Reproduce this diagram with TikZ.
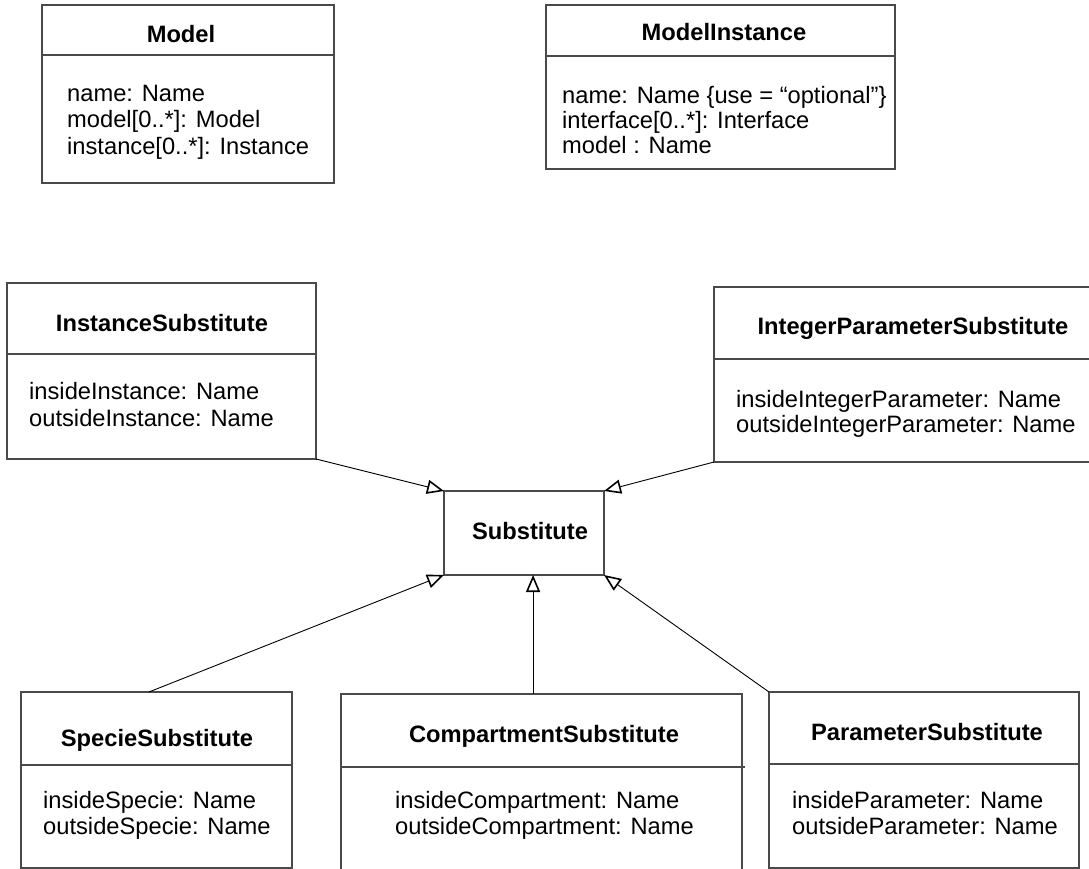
\documentclass[tikz,border=0pt]{standalone}
\usepackage{fontspec}
\setmainfont{Liberation Sans}
\usetikzlibrary{arrows.meta,calc}
\definecolor{boxgray}{HTML}{4A4A4A}
\tikzset{
  umlbox/.style={rectangle, inner sep=0pt, outer sep=0pt, anchor=north west},
  frame/.style={draw=boxgray, line width=1.3pt},
  classname/.style={font=\bfseries\fontsize{23.7}{27}\selectfont, anchor=base, inner sep=0pt},
  attr/.style={font=\fontsize{23.7}{27}\selectfont, anchor=base west, inner sep=0pt},
  inherit/.style={draw=black, line width=0.9pt,
    -{Triangle[open, length=17pt, width=14pt, line width=1.6pt]}},
}
\begin{document}
\begin{tikzpicture}[x=1pt,y=-1pt]
\useasboundingbox (0,0) rectangle (1089,869);

% ---- class frames ----
\node[umlbox, frame, minimum width=292pt, minimum height=178pt] (model) at (42,5) {};
\node[umlbox, frame, minimum width=349pt, minimum height=164pt] (mi) at (546,5) {};
\node[umlbox, frame, minimum width=309pt, minimum height=176pt] (inst) at (7,283) {};
\node[umlbox, minimum width=380pt, minimum height=175pt] (int) at (714,287) {};
\node[umlbox, frame, minimum width=160pt, minimum height=84pt] (sub) at (444,491) {};
\node[umlbox, frame, minimum width=271pt, minimum height=176pt] (spec) at (21,692) {};
\node[umlbox, minimum width=401pt, minimum height=180pt] (comp) at (341,694) {};
\node[umlbox, frame, minimum width=310pt, minimum height=176pt] (par) at (769,692) {};

% open-sided frames
\draw[frame] (int.north east) -- (int.north west) -- (int.south west) -- (int.south east);
\draw[frame] (comp.south west) -- (comp.north west) -- (comp.north east) -- (comp.south east);

% ---- compartment separators ----
\draw[frame] (model.west |- 0,55) -- (model.east |- 0,55);
\draw[frame] (mi.west |- 0,56) -- (mi.east |- 0,56);
\draw[frame] (inst.west |- 0,354) -- (inst.east |- 0,354);
\draw[frame] (int.west |- 0,359) -- (int.east |- 0,359);
\draw[frame] (spec.west |- 0,765) -- (spec.east |- 0,765);
\draw[frame] (comp.west |- 0,767) -- ($(comp.east |- 0,767)+(3,0)$);
\draw[frame] (par.west |- 0,764) -- (par.east |- 0,764);

% ---- class names ----
\node[classname] (model-t) at (181,43) {Model};
\node[classname] (mi-t) at (724,41) {ModelInstance};
\node[classname] (inst-t) at (162,331) {InstanceSubstitute};
\node[classname] (int-t) at (913,334) {IntegerParameterSubstitute};
\node[classname] (sub-t) at (530,539) {Substitute};
\node[classname] (spec-t) at (157,746) {SpecieSubstitute};
\node[classname] (comp-t) at (544,742) {CompartmentSubstitute};
\node[classname] (par-t) at (927,740) {ParameterSubstitute};

% ---- attributes ----
\node[attr] (model-a1) at (67,102) {name: Name};
\node[attr] (model-a2) at (67,128) {model[0..*]: Model};
\node[attr] (model-a3) at (67,155) {instance[0..*]: Instance};

\node[attr] (mi-a1) at (562,104) {name: Name \{use = “optional”\}};
\node[attr] (mi-a2) at (562,129) {interface[0..*]: Interface};
\node[attr] (mi-a3) at (562,154) {model : Name};

\node[attr] (inst-a1) at (29,399) {insideInstance: Name};
\node[attr] (inst-a2) at (29,426) {outsideInstance: Name};

\node[attr] (int-a1) at (736,407) {insideIntegerParameter: Name};
\node[attr] (int-a2) at (736,432) {outsideIntegerParameter: Name};

\node[attr] (spec-a1) at (43,808) {insideSpecie: Name};
\node[attr] (spec-a2) at (43,834) {outsideSpecie: Name};

\node[attr] (comp-a1) at (395,808) {insideCompartment: Name};
\node[attr] (comp-a2) at (395,834) {outsideCompartment: Name};

\node[attr] (par-a1) at (792,808) {insideParameter: Name};
\node[attr] (par-a2) at (792,834) {outsideParameter: Name};

% ---- generalisations ----
\draw[inherit] (inst.south east) -- (sub.north west);
\draw[inherit] (int.south west) -- (sub.north east);
\coordinate (spec-top) at ($(spec.north west)!0.472!(spec.north east)$);
\draw[inherit] (spec-top) -- (sub.south west);
\coordinate (comp-top) at ($(comp.north west)!0.479!(comp.north east)$);
\draw[inherit] (comp-top) -- (comp-top |- sub.south);
\draw[inherit] (par.north west) -- (sub.south east);
\end{tikzpicture}
\end{document}
